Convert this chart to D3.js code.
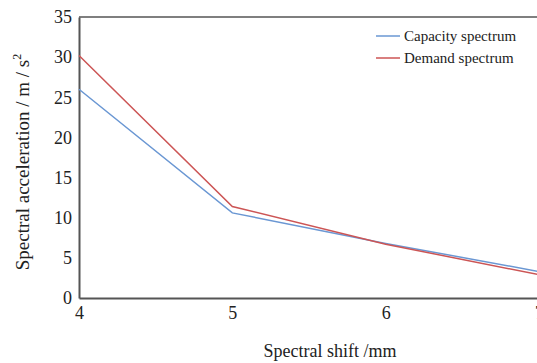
<!DOCTYPE html>
<html>
<head>
<meta charset="utf-8">
<script src="https://cdn.jsdelivr.net/npm/d3@7"></script>
<style>
  body { margin: 0; background: #fff; }
  svg { display: block; }
  svg text { font-family: "Liberation Serif", "Times New Roman", serif !important; }
</style>
</head>
<body>
<svg id="chart" width="537" height="363"></svg>
<script>
// data
const shift = [4, 5, 6, 7];
const capacity = [26.0, 10.6, 6.8, 3.3];
const demand = [30.2, 11.4, 6.7, 2.9];
const yTicks = [0, 5, 10, 15, 20, 25, 30, 35];
const seriesNames = ['Capacity spectrum', 'Demand spectrum'];
const colors = ['#6a97d3', '#cc5555'];

const svg = d3.select('#chart');
const plotLeft = 79, plotRight = 539, plotTop = 17, plotBottom = 298;

const x = d3.scaleLinear().domain([4, 7]).range([plotLeft, plotRight]);
const y = d3.scaleLinear().domain([0, 35]).range([plotBottom, plotTop]);

// frame: top line, left and bottom axes
svg.append('line')
    .attr('x1', plotLeft).attr('x2', 537)
    .attr('y1', plotTop).attr('y2', plotTop)
    .attr('stroke', '#555').attr('stroke-width', 1.5);

const yAxis = svg.append('g')
    .attr('transform', `translate(${plotLeft},0)`)
    .call(d3.axisLeft(y).tickValues(yTicks).tickSize(0).tickPadding(7));
yAxis.select('.domain').attr('stroke', '#555').attr('stroke-width', 2);
yAxis.selectAll('text').style('font-size', '18px').attr('fill', '#222');

const xAxis = svg.append('g')
    .attr('transform', `translate(0,${plotBottom})`)
    .call(d3.axisBottom(x).tickValues(shift).tickFormat(d3.format('d')).tickSize(0).tickPadding(8));
xAxis.select('.domain').attr('stroke', '#555').attr('stroke-width', 2);
xAxis.selectAll('text').style('font-size', '18px').attr('fill', '#222');

// series lines
const line = d3.line()
    .x((d, i) => x(shift[i]))
    .y(d => y(d));

[capacity, demand].forEach((s, i) => {
    svg.append('path')
        .datum(s)
        .attr('d', line)
        .attr('fill', 'none')
        .attr('stroke', colors[i])
        .attr('stroke-width', 1.5);
});

// legend
seriesNames.forEach((name, i) => {
    const ly = 36 + i * 22;
    svg.append('line')
        .attr('x1', 376).attr('x2', 400)
        .attr('y1', ly).attr('y2', ly)
        .attr('stroke', colors[i]).attr('stroke-width', 1.5);
    svg.append('text')
        .attr('x', 404).attr('y', ly + 5)
        .style('font-size', '15px')
        .attr('fill', '#222')
        .text(name);
});

// axis titles
svg.append('text')
    .attr('x', 330).attr('y', 357)
    .attr('text-anchor', 'middle')
    .style('font-size', '18px')
    .attr('fill', '#222')
    .text('Spectral shift /mm');

const yt = svg.append('text')
    .attr('transform', 'translate(29,162) rotate(-90)')
    .attr('text-anchor', 'middle')
    .style('font-size', '19px')
    .attr('fill', '#222');
yt.append('tspan').text('Spectral acceleration / m / s');
yt.append('tspan').attr('dy', -8).style('font-size', '12px').text('2');
</script>
</body>
</html>
